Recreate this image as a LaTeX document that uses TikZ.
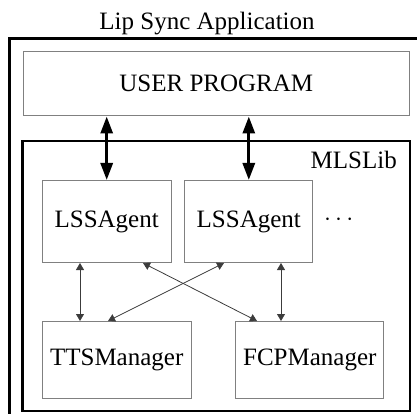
\documentclass[tikz,border=0pt]{standalone}
\usepackage{fontspec}
\setmainfont{Liberation Serif}
\usetikzlibrary{arrows.meta,calc}
\definecolor{boxgray}{RGB}{128,128,128}
\definecolor{linegray}{RGB}{60,60,60}
\tikzset{
  boxstyle/.style={draw=boxgray, line width=1pt, inner sep=0pt, anchor=north west,
    font=\fontsize{25}{30}\selectfont},
  bigarrow/.style={line width=3pt, {Triangle[length=17pt,width=12pt]}-{Triangle[length=17pt,width=12pt]}, shorten <=0pt, shorten >=0pt},
  thinarrow/.style={draw=linegray, line width=0.8pt, {Triangle[length=7pt,width=8pt]}-{Triangle[length=7pt,width=8pt]}},
  labeltext/.style={font=\fontsize{25}{30}\selectfont, inner sep=0pt}
}
\begin{document}
\begin{tikzpicture}[x=1pt,y=-1pt]
\useasboundingbox (0,0) rectangle (417,414);
\begin{scope}
\clip (0,0) rectangle (417,414);
\draw[line width=3pt] (9.5,440) -- (9.5,38.5) -- (440,38.5);
\end{scope}
\node[labeltext, anchor=base] (title) at (207,29.3) {Lip Sync Application};
\node[boxstyle, minimum width=386.5pt, minimum height=64.5pt] (user) at (22.5,51) {USER PROGRAM};
\draw[line width=2.5pt] (22.5,141) rectangle (410,411);
\node[labeltext, anchor=base east] (lib) at (397,168.3) {MLSLib};
\node[boxstyle, minimum width=129pt, minimum height=82pt] (a1) at (41.7,180) {LSSAgent};
\node[boxstyle, minimum width=128pt, minimum height=82pt] (a2) at (184.3,180) {LSSAgent};
\node[labeltext, anchor=west] (dots) at (324,219.5) {$\cdots$};
\node[boxstyle, minimum width=149pt, minimum height=76.7pt] (tts) at (41.7,321) {TTSManager};
\node[boxstyle, minimum width=148pt, minimum height=76.7pt] (fcp) at (235.3,321) {FCPManager};
\draw[bigarrow] (user.south -| a1.north) -- (a1.north);
\draw[bigarrow] (user.south -| a2.north) -- (a2.north);
\coordinate (v1) at (80,0);
\coordinate (v2) at (281,0);
\coordinate (c1) at (143,0);
\coordinate (c2) at (257,0);
\coordinate (c3) at (224,0);
\coordinate (c4) at (108,0);
\draw[thinarrow] (a1.south -| v1) -- (tts.north -| v1);
\draw[thinarrow] (a2.south -| v2) -- (fcp.north -| v2);
\draw[thinarrow] (a1.south -| c1) -- (fcp.north -| c2);
\draw[thinarrow] (a2.south -| c3) -- (tts.north -| c4);
\end{tikzpicture}
\end{document}
